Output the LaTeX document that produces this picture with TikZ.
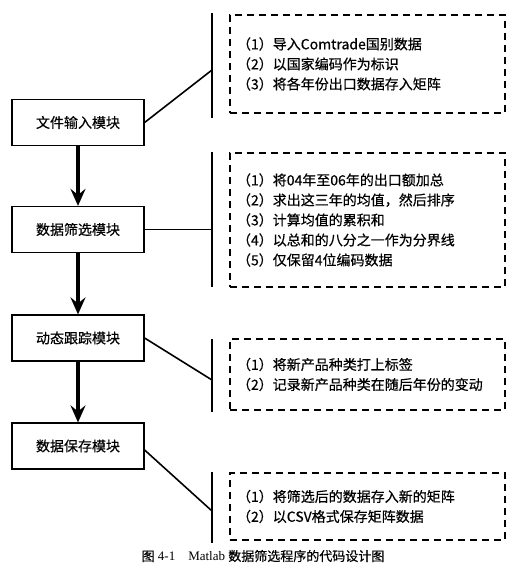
\documentclass[tikz,border=0pt]{standalone}
\usepackage{fontspec}
\setmainfont{Liberation Serif}
\newfontfamily\cjk[FakeBold=0.5]{Noto Sans CJK SC}
\usetikzlibrary{arrows.meta}
\begin{document}
\begin{tikzpicture}[x=1pt,y=-1pt,
  modbox/.style={draw,line width=1.2pt,minimum width=132pt,minimum height=46pt,inner sep=0pt,font=\cjk\fontsize{14}{16}\selectfont},
  notebox/.style={draw,dash pattern=on 7pt off 5pt,line width=1.2pt,minimum width=275pt,text width=261pt,align=left,inner xsep=7pt,inner ysep=0pt,font=\cjk\fontsize{14}{20}\selectfont},
  flow/.style={line width=3.5pt,-{Stealth[length=17pt,width=15pt,inset=6pt]}},
  bar/.style={line width=2pt},
  link/.style={line width=1.6pt}]
\useasboundingbox (0,0) rectangle (518,575);

% module boxes
\node[modbox] (b1) at (78,122.5) {文件输入模块};
\node[modbox] (b2) at (78,229.5) {数据筛选模块};
\node[modbox] (b3) at (78,338) {动态跟踪模块};
\node[modbox] (b4) at (78,446) {数据保存模块};

\draw[flow] (b1.south) -- (b2.north);
\draw[flow] (b2.south) -- (b3.north);
\draw[flow] (b3.south) -- (b4.north);

% note boxes
\node[notebox,minimum height=98pt] (d1) at (367.5,64) {（1）导入Comtrade国别数据\\（2）以国家编码作为标识\\（3）将各年份出口数据存入矩阵};
\node[notebox,minimum height=134pt] (d2) at (367.5,220) {（1）将04年至06年的出口额加总\\（2）求出这三年的均值，然后排序\\（3）计算均值的累积和\\（4）以总和的八分之一作为分界线\\（5）仅保留4位编码数据};
\node[notebox,minimum height=71pt] (d3) at (367.5,374.5) {（1）将新产品种类打上标签\\（2）记录新产品种类在随后年份的变动};
\node[notebox,minimum height=67pt] (d4) at (367.5,506.5) {（1）将筛选后的数据存入新的矩阵\\（2）以CSV格式保存矩阵数据};

% vertical bars
\coordinate (v1a) at (212,13);  \coordinate (v1b) at (212,118);
\coordinate (v2a) at (212,152); \coordinate (v2b) at (212,287);
\coordinate (v3a) at (212,339); \coordinate (v3b) at (212,412);
\coordinate (v4a) at (212,472); \coordinate (v4b) at (212,543);
\draw[bar] (v1a) -- (v1b);
\draw[bar] (v2a) -- (v2b);
\draw[bar] (v3a) -- (v3b);
\draw[bar] (v4a) -- (v4b);

\coordinate (j1) at (212,70);
\coordinate (j2) at (212,229.5);
\coordinate (j3) at (212,380);
\coordinate (j4) at (212,511);
\draw[link] (b1.east) -- (j1);
\draw[link] (b2.east) -- (j2);
\draw[link] (b3.east) -- (j3);
\draw[link] ([yshift=-4pt]b4.east) -- (j4);

% caption
\node[font=\fontsize{13}{15}\selectfont] (cap) at (263,556) {{\cjk 图} 4-1\quad Matlab {\cjk 数据筛选程序的代码设计图}};
\end{tikzpicture}
\end{document}
